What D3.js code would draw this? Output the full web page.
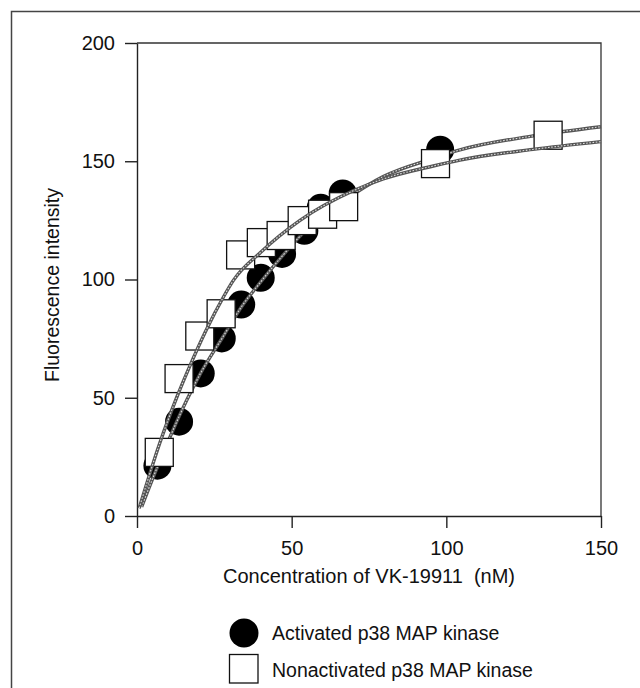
<!DOCTYPE html>
<html>
<head>
<meta charset="utf-8">
<script src="https://cdn.jsdelivr.net/npm/d3@7"></script>
<style>
  html, body { margin: 0; padding: 0; background: #fff; }
  svg text { font-family: 'Liberation Sans', Arial, Helvetica, sans-serif; fill: #111; }
</style>
</head>
<body>
<svg id="chart"></svg>
<script>
// values
const xTicks = [0, 50, 100, 150]
const yTicks = [0, 50, 100, 150, 200]

// activated p38 (filled circles)
const actX = [6.6, 13.6, 20.6, 27.4, 33.7, 40.0, 46.9, 54.1, 59.4, 66.5, 98.0]
const actY = [21.3, 39.9, 60.3, 75.1, 89.4, 100.7, 110.8, 120.6, 130.3, 136.4, 154.9]

// nonactivated p38 (open squares)
const nonX = [7.2, 13.6, 20.3, 27.2, 33.5, 40.2, 46.6, 53.4, 60.0, 66.8, 96.5, 132.9]
const nonY = [26.9, 58.1, 76.1, 85.5, 110.4, 115.6, 118.6, 124.9, 127.6, 130.8, 149.0, 161.0]

// fitted curves
const fitActX = [1.5, 5.3, 11.2, 16.1, 20.4, 27.9, 33.8, 40, 47, 53.6, 60, 67, 79.6, 95.8, 104.4, 128, 150]
const fitActY = [3.9, 16.6, 35, 49, 60, 76, 88.5, 99, 110, 119.5, 127, 133.5, 143.5, 151.2, 154.8, 160.7, 164.6]
const fitNonX = [0.7, 7.4, 12.8, 17.1, 22.5, 27.9, 31.1, 40, 52.7, 69.9, 79.6, 95.8, 104.4, 128, 150]
const fitNonY = [3.3, 31, 50, 63.5, 79, 92.5, 99.5, 111.5, 125, 137.5, 142.5, 148, 150.5, 155, 158.3]

const legendLabels = ['Activated p38 MAP kinase', 'Nonactivated p38 MAP kinase']

window.onload = () => {

	let w = 640, h = 688
	let left = 137, right = 601, top = 43, bottom = 516
	let fs = 19.5

	let svg = d3.select('#chart').attr('width', w).attr('height', h)

	// outer frame (left + top only)
	svg.append('path')
	.attr('d', `M11.5,${h}V11.5H${w}`)
	.attr('fill', 'none')
	.attr('stroke', '#444')
	.attr('stroke-width', 1.5)

	let x = d3.scaleLinear().domain([0, 150]).range([left, right])
	let y = d3.scaleLinear().domain([0, 200]).range([bottom, top])

	const zip = (a, b) => a.map((v, i) => [v, b[i]])

	// plot box top and right
	svg.append('path')
	.attr('d', `M${left},${top}H${right}V${bottom}`)
	.attr('fill', 'none')
	.attr('stroke', '#333')
	.attr('stroke-width', 1.3)

	svg.append('g').attr('transform', `translate(0,${bottom})`)
	.call(d3.axisBottom(x).tickValues(xTicks).tickSize(12).tickSizeOuter(0).tickPadding(13))
	svg.append('g').attr('transform', `translate(${left},0)`)
	.call(d3.axisLeft(y).tickValues(yTicks).tickSize(12).tickSizeOuter(0).tickPadding(10))

	svg.selectAll('.domain, .tick line').attr('stroke', '#222').attr('stroke-width', 1.4)
	svg.selectAll('.tick text').attr('font-size', 20).attr('font-family', null).attr('fill', '#111')

	// axis titles
	svg.append('text')
	.attr('x', (left + right) / 2).attr('y', 583)
	.attr('text-anchor', 'middle').attr('font-size', 20)
	.attr('xml:space', 'preserve')
	.text('Concentration of VK-19911  (nM)')

	svg.append('text')
	.attr('transform', `translate(59,285) rotate(-90)`)
	.attr('text-anchor', 'middle').attr('font-size', fs)
	.text('Fluorescence intensity')

	let line = d3.line().x(d => x(d[0])).y(d => y(d[1])).curve(d3.curveMonotoneX)

	// beaded grey fit line
	const bead = (g, pts) => {
		g.append('path').attr('d', line(pts)).attr('fill', 'none')
		.attr('stroke', '#555').attr('stroke-width', 3.4)
		g.append('path').attr('d', line(pts)).attr('fill', 'none')
		.attr('stroke', '#ddd').attr('stroke-width', 1.1)
		.attr('stroke-dasharray', '1.6 1.6')
	}

	svg.append('g').selectAll('circle')
	.data(zip(actX, actY)).enter()
	.append('circle')
	.attr('cx', d => x(d[0])).attr('cy', d => y(d[1]))
	.attr('r', 14).attr('fill', '#000')

	bead(svg.append('g'), zip(fitActX, fitActY))

	svg.append('g').selectAll('rect')
	.data(zip(nonX, nonY)).enter()
	.append('rect')
	.attr('x', d => x(d[0]) - 14).attr('y', d => y(d[1]) - 14)
	.attr('width', 28).attr('height', 28)
	.attr('fill', '#fff').attr('stroke', '#111').attr('stroke-width', 1.3)

	bead(svg.append('g'), zip(fitNonX, fitNonY))

	// legend
	svg.append('circle').attr('cx', 244).attr('cy', 633).attr('r', 14.5).attr('fill', '#000')
	svg.append('rect').attr('x', 229.5).attr('y', 654.5).attr('width', 28.5).attr('height', 28.5)
	.attr('fill', '#fff').attr('stroke', '#111').attr('stroke-width', 1.3)

	svg.selectAll('.leg').data(legendLabels).enter()
	.append('text').attr('class', 'leg')
	.attr('x', 272).attr('y', (d, i) => 640 + i * 37)
	.attr('font-size', fs)
	.text(d => d)
}
</script>
</body>
</html>
